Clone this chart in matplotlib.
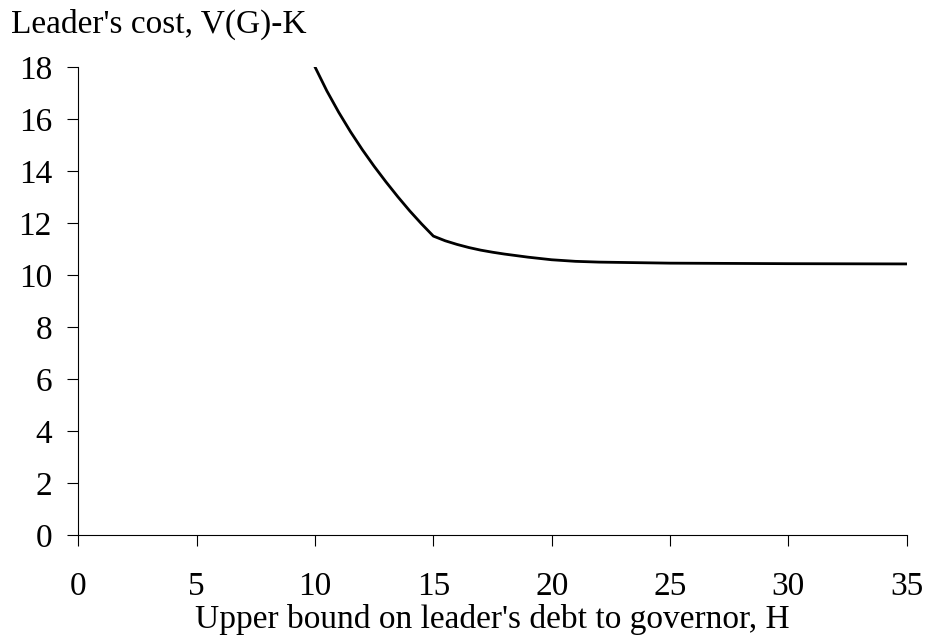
import numpy as np
import matplotlib
matplotlib.use("Agg")
import matplotlib.pyplot as plt

plt.rcParams['font.family'] = ['Liberation Serif', 'DejaVu Serif']

# debt bound H and leader's cost V(G)-K
h = [10, 10.5, 11, 11.5, 12, 12.5, 13, 13.5, 14, 14.5, 15,
     15.5, 16, 16.5, 17, 17.5, 18, 19, 20, 21, 22, 25, 30, 35]
cost = [18.0, 17.08, 16.26, 15.51, 14.82, 14.18, 13.58, 13.01, 12.47, 11.97, 11.5,
        11.32, 11.18, 11.06, 10.96, 10.88, 10.81, 10.69, 10.59, 10.53, 10.5,
        10.46, 10.44, 10.43]

xticks = [0, 5, 10, 15, 20, 25, 30, 35]
yticks = [0, 2, 4, 6, 8, 10, 12, 14, 16, 18]

fig = plt.figure(figsize=(9.26, 6.38), dpi=100)
ax = fig.add_axes([0.0846, 0.161, 0.8946, 0.734])

ax.plot(h, cost, color='black', linewidth=2.0, solid_joinstyle='round')

ax.set_xlim(0, 35)
ax.set_ylim(0, 18)
ax.set_xticks(xticks)
ax.set_yticks(yticks)
ax.spines['top'].set_visible(False)
ax.spines['right'].set_visible(False)
ax.spines['left'].set_linewidth(0.8)
ax.spines['bottom'].set_linewidth(0.8)
ax.tick_params(axis='x', direction='out', length=8, width=0.8, pad=18, labelsize=24)
ax.tick_params(axis='y', direction='out', length=8, width=0.8, pad=11, labelsize=24)

fig.text(0.532, 0.016, "Upper bound on leader's debt to governor, H", fontsize=24,
         ha='center', va='baseline')
fig.text(0.012, 0.948, "Leader's cost, V(G)-K", fontsize=24, ha='left', va='baseline')

fig.savefig('out.png', dpi=100)
